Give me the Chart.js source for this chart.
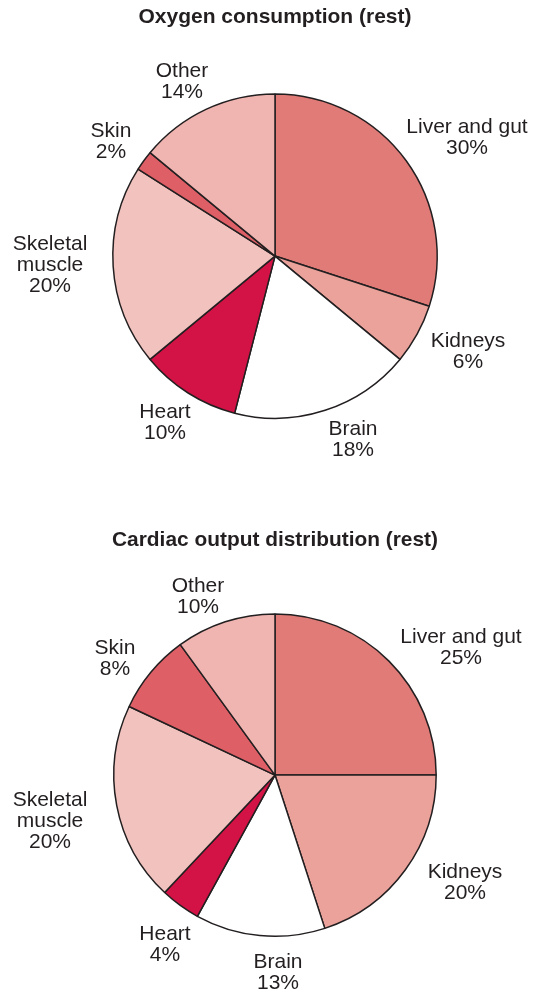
<!DOCTYPE html>
<html>
<head>
<meta charset="utf-8">
<title>Oxygen consumption and cardiac output at rest</title>
<script src="https://cdn.jsdelivr.net/npm/chart.js@4.4.1/dist/chart.umd.min.js"></script>
<style>
  html, body { margin: 0; padding: 0; background: #fff; }
  .panel { position: relative; width: 535px; }
</style>
</head>
<body>
<div class="panel" style="height:497px"><canvas id="oxygen"></canvas></div>
<div class="panel" style="height:496px"><canvas id="cardiac"></canvas></div>
<script>
// Organ order, clockwise from 12 o'clock
const organs = [['Liver and gut'], ['Kidneys'], ['Brain'], ['Heart'], ['Skeletal', 'muscle'], ['Skin'], ['Other']];
const oxygenShare = [30, 6, 18, 10, 20, 2, 14];
const cardiacShare = [25, 20, 13, 4, 20, 8, 10];

const organColors = ['#e17b78', '#eaa29b', '#ffffff', '#d31245', '#f2c3be', '#df5f66', '#f0b5b1'];
const ink = '#231f20';
const fontFamily = '"Liberation Sans", Arial, Helvetica, sans-serif';

// Label block offsets from the pie centre, in px
const oxygenLabelOffsets = [[192, -118], [193, 96], [78, 184], [-110, 167], [-225, 9], [-164, -114], [-93, -174]];
const cardiacLabelOffsets = [[186, -127], [190, 108], [3, 198], [-110, 170], [-225, 46], [-160, -116], [-77, -178]];

// Draws "name / nn%" next to each slice
const sliceLabels = {
  id: 'sliceLabels',
  afterDatasetsDraw(chart, args, opts) {
    const { ctx } = chart;
    const arcs = chart.getDatasetMeta(0).data;
    const values = chart.data.datasets[0].data;
    const lineH = 21;
    ctx.save();
    ctx.font = '21px ' + fontFamily;
    ctx.fillStyle = ink;
    ctx.textAlign = 'center';
    ctx.textBaseline = 'middle';
    arcs.forEach((arc, i) => {
      const lines = chart.data.labels[i].concat(values[i] + '%');
      const [dx, dy] = opts.offsets[i];
      const top = arc.y + dy - (lines.length - 1) * lineH / 2;
      lines.forEach((t, k) => ctx.fillText(t, arc.x + dx, top + k * lineH));
    });
    ctx.restore();
  }
};

function makePie(canvasId, title, values, offsets, box) {
  return new Chart(document.getElementById(canvasId), {
    type: 'pie',
    data: {
      labels: organs,
      datasets: [{
        data: values,
        backgroundColor: organColors,
        borderColor: ink,
        borderWidth: 1.5
      }]
    },
    options: {
      responsive: true,
      maintainAspectRatio: false,
      animation: false,
      layout: { padding: { left: 112, right: 97, top: 0, bottom: box.bottom } },
      plugins: {
        legend: { display: false },
        tooltip: { enabled: false },
        title: {
          display: true,
          text: title,
          color: ink,
          fullSize: box.fullSize,
          font: { family: fontFamily, size: 21, weight: 'bold', lineHeight: 1.15 },
          padding: { top: box.titleTop, bottom: box.titleBottom }
        },
        sliceLabels: { offsets }
      }
    },
    plugins: [sliceLabels]
  });
}

makePie('oxygen', 'Oxygen consumption (rest)', oxygenShare, oxygenLabelOffsets,
  { titleTop: 5, titleBottom: 64, bottom: 78, fullSize: true });
makePie('cardiac', 'Cardiac output distribution (rest)', cardiacShare, cardiacLabelOffsets,
  { titleTop: 31, titleBottom: 61, bottom: 56, fullSize: false });
</script>
</body>
</html>
